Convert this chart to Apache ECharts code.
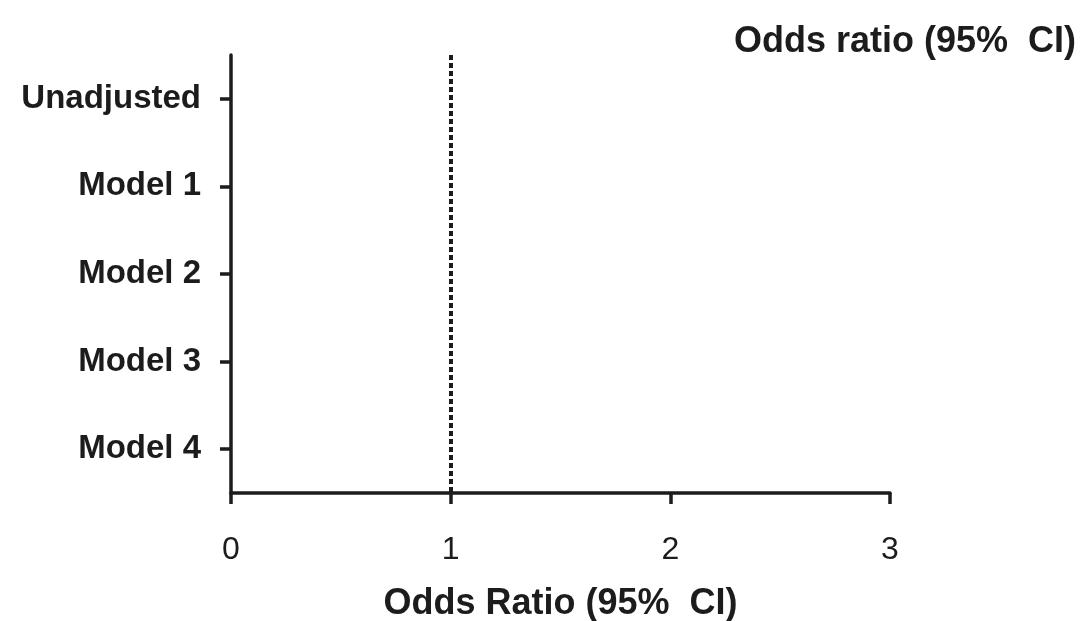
<!DOCTYPE html>
<html>
<head>
<meta charset="utf-8">
<script src="https://cdn.jsdelivr.net/npm/echarts@6/dist/echarts.min.js"></script>
<style>
  html, body { margin: 0; padding: 0; background: #ffffff; }
  #chart { width: 1087px; height: 621px; }
</style>
</head>
<body>
<div id="chart"></div>
<script>
// Model rows, top to bottom
const models = ['Unadjusted', 'Model 1', 'Model 2', 'Model 3', 'Model 4'];
// Odds-ratio axis ticks
const oddsTicks = [0, 1, 2, 3];
// Estimates per model: [odds ratio, lower CI, upper CI] (none plotted)
const estimates = [];
// Line of no effect
const nullValue = 1;

const ink = '#1c1c1c';
const font = '"Liberation Sans", Arial, Helvetica, sans-serif';

const chart = echarts.init(document.getElementById('chart'));
chart.setOption({
  backgroundColor: '#ffffff',
  animation: false,
  title: {
    text: 'Odds ratio (95%  CI)',
    right: 6,
    top: 19,
    textStyle: { fontFamily: font, fontSize: 36, fontWeight: 'bold', color: ink }
  },
  grid: { left: 231, right: 197, top: 55, bottom: 128, containLabel: false, outerBoundsMode: 'none' },
  xAxis: {
    type: 'value',
    min: oddsTicks[0],
    max: oddsTicks[oddsTicks.length - 1],
    interval: 1,
    name: 'Odds Ratio (95%  CI)',
    nameLocation: 'middle',
    nameGap: 93,
    nameTextStyle: { fontFamily: font, fontSize: 36, fontWeight: 'bold', color: ink },
    axisLine: { show: true, lineStyle: { color: ink, width: 3.5 } },
    axisTick: { show: true, length: 11, lineStyle: { color: ink, width: 3.5 } },
    axisLabel: { fontFamily: font, fontSize: 32, color: ink, margin: 41 },
    splitLine: { show: false }
  },
  yAxis: {
    type: 'category',
    data: models,
    inverse: true,
    axisLine: { show: true, lineStyle: { color: ink, width: 3.5 } },
    axisTick: { show: true, alignWithLabel: true, length: 11, lineStyle: { color: ink, width: 3.5 } },
    axisLabel: { fontFamily: font, fontSize: 33, fontWeight: 'bold', color: ink, margin: 30 },
    splitLine: { show: false }
  },
  series: [{
    type: 'scatter',
    data: estimates.map((e, i) => [e[0], models[i]]),
    symbolSize: 10,
    itemStyle: { color: ink },
    markLine: {
      silent: true,
      symbol: 'none',
      label: { show: false },
      lineStyle: { color: ink, width: 4, type: [5, 3] },
      data: [{ xAxis: nullValue }]
    }
  }]
});
</script>
</body>
</html>
